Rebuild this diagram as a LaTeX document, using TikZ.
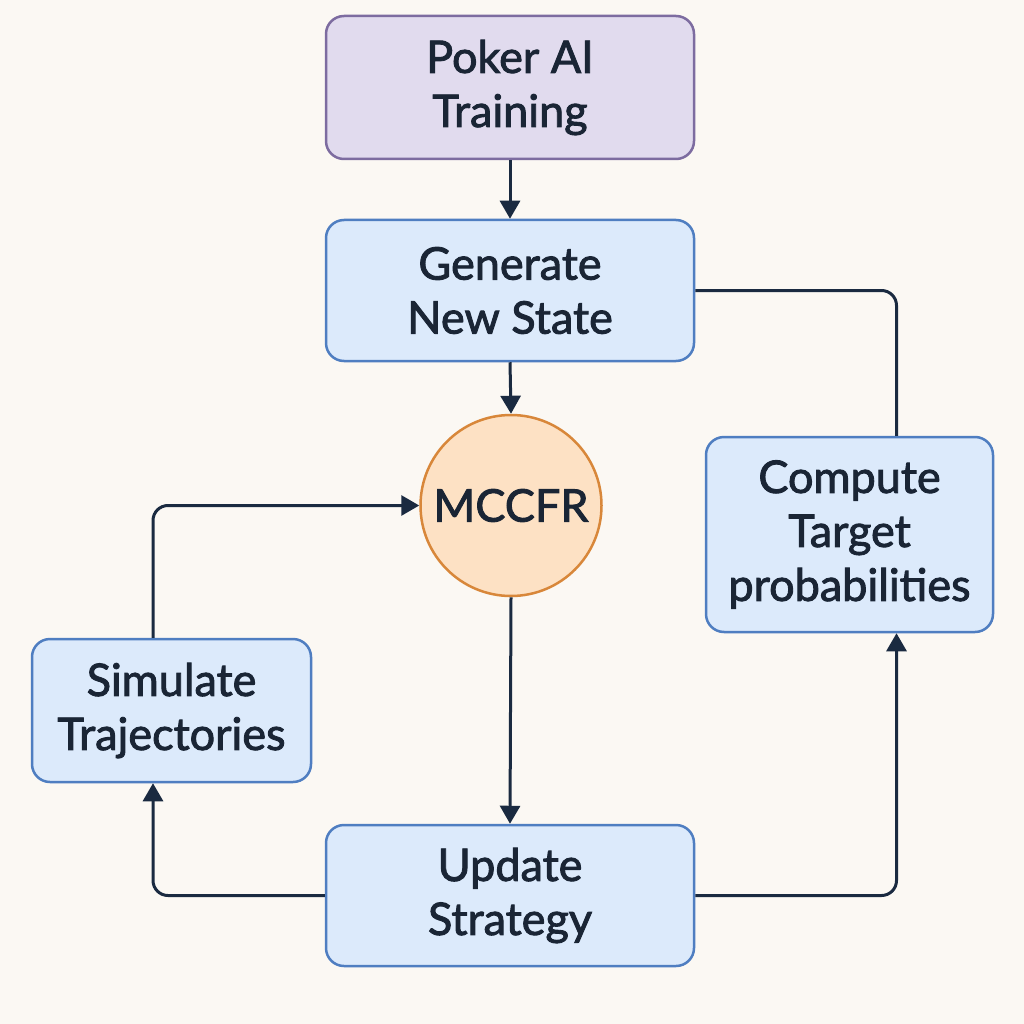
\documentclass[tikz,border=0pt]{standalone}
\usepackage{fontspec}
\setmainfont{Lato}[RawFeature={embolden=2}]
\usetikzlibrary{arrows.meta}
\definecolor{bgc}{HTML}{FBF8F3}
\definecolor{lavfill}{HTML}{E1DBEE}
\definecolor{lavdraw}{HTML}{7D6CA0}
\definecolor{bluefill}{HTML}{DCEAFB}
\definecolor{bluedraw}{HTML}{4F7EC1}
\definecolor{orfill}{HTML}{FDE1C4}
\definecolor{ordraw}{HTML}{D8873A}
\definecolor{ink}{HTML}{1A2A40}
\definecolor{txt}{HTML}{1A2535}
\tikzset{
  lbl/.style={font=\fontsize{45}{54}\selectfont, text=txt, align=center, inner sep=0pt},
  bluebox/.style={lbl, rectangle, rounded corners=18pt, draw=bluedraw, fill=bluefill, line width=2.5pt},
  lavbox/.style={lbl, rectangle, rounded corners=18pt, draw=lavdraw, fill=lavfill, line width=2.5pt},
  orcirc/.style={lbl, circle, draw=ordraw, fill=orfill, line width=2.5pt, minimum size=181pt},
  conn/.style={draw=ink, line width=3pt, rounded corners=15pt},
  arr/.style={conn, -{Triangle[length=18pt,width=20pt]}}
}
\begin{document}
\begin{tikzpicture}[x=1pt,y={(0pt,-1pt)}]
\useasboundingbox (0,0) rectangle (1024,1024);
\fill[bgc] (0,0) rectangle (1024,1024);
\node[lavbox, minimum width=368pt, minimum height=143pt] (poker) at (510,87.5) {Poker AI\\Training};
\node[bluebox, minimum width=368pt, minimum height=141pt] (gen) at (510,290.5) {Generate\\New State};
\node[orcirc] (mccfr) at (511,505.5) {MCCFR};
\node[bluebox, minimum width=287pt, minimum height=195pt] (comp) at (849.5,534.5) {Compute\\Target\\probabilities};
\node[bluebox, minimum width=279pt, minimum height=143pt] (sim) at (171.5,710.5) {Simulate\\Trajectories};
\node[bluebox, minimum width=368pt, minimum height=141pt] (upd) at (510,895.5) {Update\\Strategy};
\draw[arr] (poker.south) -- (gen.north);
\draw[arr] (gen.south) -- (mccfr.north);
\draw[arr] (mccfr.south) -- (upd.north);
\coordinate (simtop) at ([xshift=-18.5pt]sim.north);
\coordinate (simbot) at ([xshift=-18.5pt]sim.south);
\coordinate (comptop) at ([xshift=47pt]comp.north);
\coordinate (compbot) at ([xshift=47pt]comp.south);
\draw[arr] (upd.west) -| (simbot);
\draw[arr] (simtop) |- (mccfr.west);
\draw[arr] (upd.east) -| (compbot);
\draw[conn] (comptop) |- (gen.east);
\end{tikzpicture}
\end{document}
